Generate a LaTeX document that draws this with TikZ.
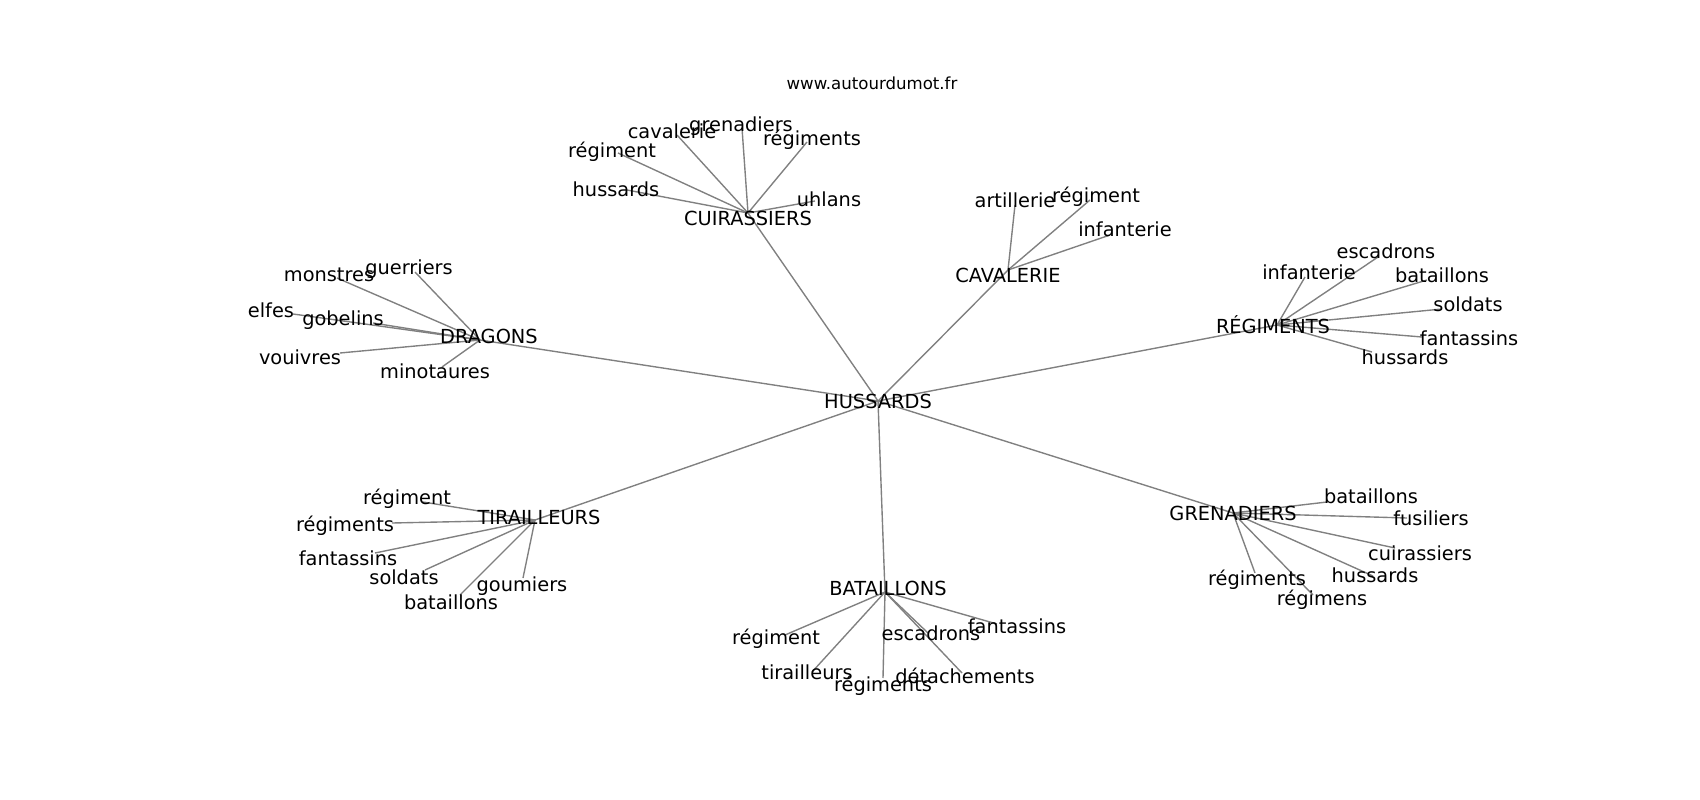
\documentclass[tikz,border=0pt]{standalone}
\usepackage{fontspec}
\setmainfont{DejaVu Sans}
\begin{document}
\begin{tikzpicture}[x=0.0254cm,y=-0.0254cm,
  lbl/.style={inner sep=0pt,text height=0.76em,text depth=0.24em,font=\fontsize{14}{16.8}\selectfont,anchor=center,yshift=-2.2pt},
  edge/.style={draw=black!50,line width=1pt}]
\useasboundingbox (0,0) rectangle (1700,800);
% node positions
\coordinate (pH) at (878,401);
\coordinate (pCU) at (748,213);
\coordinate (pCA) at (1008,270);
\coordinate (pDR) at (480,340);
\coordinate (pRE) at (1277,325);
\coordinate (pTI) at (535,520);
\coordinate (pBA) at (885,592);
\coordinate (pGR) at (1233,513);
% CUIRASSIERS leaves
\coordinate (pcu1) at (677,135);
\coordinate (pcu2) at (742,128);
\coordinate (pcu3) at (807,142);
\coordinate (pcu4) at (618,153);
\coordinate (pcu5) at (627,190);
\coordinate (pcu6) at (815,201);
% CAVALERIE leaves
\coordinate (pca1) at (1015,205);
\coordinate (pca2) at (1090,200);
\coordinate (pca3) at (1110,235);
% DRAGONS leaves
\coordinate (pdr1) at (415,272);
\coordinate (pdr2) at (337,278);
\coordinate (pdr3) at (293,314);
\coordinate (pdr4) at (373,323);
\coordinate (pdr5) at (340,353);
\coordinate (pdr6) at (442,367);
% REGIMENTS leaves
\coordinate (pre1) at (1378,257);
\coordinate (pre2) at (1305,277);
\coordinate (pre3) at (1427,280);
\coordinate (pre4) at (1442,309);
\coordinate (pre5) at (1422,337);
\coordinate (pre6) at (1372,352);
% TIRAILLEURS leaves
\coordinate (pti1) at (423,502);
\coordinate (pti2) at (392,523);
\coordinate (pti3) at (375,553);
\coordinate (pti4) at (425,570);
\coordinate (pti5) at (460,595);
\coordinate (pti6) at (523,578);
% BATAILLONS leaves
\coordinate (pba1) at (785,635);
\coordinate (pba2) at (928,633);
\coordinate (pba3) at (997,624);
\coordinate (pba4) at (812,672);
\coordinate (pba5) at (883,678);
\coordinate (pba6) at (962,673);
% GRENADIERS leaves
\coordinate (pgr1) at (1327,502);
\coordinate (pgr2) at (1407,518);
\coordinate (pgr3) at (1395,548);
\coordinate (pgr4) at (1373,576);
\coordinate (pgr5) at (1255,573);
\coordinate (pgr6) at (1313,595);
% edges
\foreach \h in {pCU,pCA,pDR,pRE,pTI,pBA,pGR} \draw[edge] (pH) -- (\h);
\foreach \l in {pcu1,pcu2,pcu3,pcu4,pcu5,pcu6} \draw[edge] (pCU) -- (\l);
\foreach \l in {pca1,pca2,pca3} \draw[edge] (pCA) -- (\l);
\foreach \l in {pdr1,pdr2,pdr3,pdr4,pdr5,pdr6} \draw[edge] (pDR) -- (\l);
\foreach \l in {pre1,pre2,pre3,pre4,pre5,pre6} \draw[edge] (pRE) -- (\l);
\foreach \l in {pti1,pti2,pti3,pti4,pti5,pti6} \draw[edge] (pTI) -- (\l);
\foreach \l in {pba1,pba2,pba3,pba4,pba5,pba6} \draw[edge] (pBA) -- (\l);
\foreach \l in {pgr1,pgr2,pgr3,pgr4,pgr5,pgr6} \draw[edge] (pGR) -- (\l);
% title
\node[inner sep=0pt,anchor=base,font=\fontsize{12}{14.4}\selectfont,yshift=-0.8pt] (title) at (872,88) {www.autourdumot.fr};
% hub labels
\node[lbl] (H) at (878,402) {HUSSARDS};
\node[lbl] (CU) at (748,219) {CUIRASSIERS};
\node[lbl] (CA) at (1008,276) {CAVALERIE};
\node[lbl] (DR) at (489,337) {DRAGONS};
\node[lbl] (RE) at (1273,327) {RÉGIMENTS};
\node[lbl] (TI) at (539,518) {TIRAILLEURS};
\node[lbl] (BA) at (888,589) {BATAILLONS};
\node[lbl] (GR) at (1233,514) {GRENADIERS};
% CUIRASSIERS leaves
\node[lbl] (cu1) at (672,132) {cavalerie};
\node[lbl] (cu2) at (741,125) {grenadiers};
\node[lbl] (cu3) at (812,139) {régiments};
\node[lbl] (cu4) at (612,151) {régiment};
\node[lbl] (cu5) at (616,190) {hussards};
\node[lbl] (cu6) at (829,200) {uhlans};
% CAVALERIE leaves
\node[lbl] (ca1) at (1015,201) {artillerie};
\node[lbl] (ca2) at (1096,196) {régiment};
\node[lbl] (ca3) at (1125,230) {infanterie};
% DRAGONS leaves
\node[lbl] (dr1) at (409,268) {guerriers};
\node[lbl] (dr2) at (329,275) {monstres};
\node[lbl] (dr3) at (271,311) {elfes};
\node[lbl] (dr4) at (343,319) {gobelins};
\node[lbl] (dr5) at (300,358) {vouivres};
\node[lbl] (dr6) at (435,372) {minotaures};
% REGIMENTS leaves
\node[lbl] (re1) at (1386,252) {escadrons};
\node[lbl] (re2) at (1309,273) {infanterie};
\node[lbl] (re3) at (1442,276) {bataillons};
\node[lbl] (re4) at (1468,305) {soldats};
\node[lbl] (re5) at (1469,339) {fantassins};
\node[lbl] (re6) at (1405,358) {hussards};
% TIRAILLEURS leaves
\node[lbl] (ti1) at (407,498) {régiment};
\node[lbl] (ti2) at (345,525) {régiments};
\node[lbl] (ti3) at (348,559) {fantassins};
\node[lbl] (ti4) at (404,578) {soldats};
\node[lbl] (ti5) at (451,603) {bataillons};
\node[lbl] (ti6) at (522,585) {goumiers};
% BATAILLONS leaves
\node[lbl] (ba1) at (776,638) {régiment};
\node[lbl] (ba2) at (931,634) {escadrons};
\node[lbl] (ba3) at (1017,627) {fantassins};
\node[lbl] (ba4) at (807,673) {tirailleurs};
\node[lbl] (ba5) at (883,685) {régiments};
\node[lbl] (ba6) at (965,677) {détachements};
% GRENADIERS leaves
\node[lbl] (gr1) at (1371,497) {bataillons};
\node[lbl] (gr2) at (1431,519) {fusiliers};
\node[lbl] (gr3) at (1420,554) {cuirassiers};
\node[lbl] (gr4) at (1375,576) {hussards};
\node[lbl] (gr5) at (1257,579) {régiments};
\node[lbl] (gr6) at (1322,599) {régimens};
\end{tikzpicture}
\end{document}
